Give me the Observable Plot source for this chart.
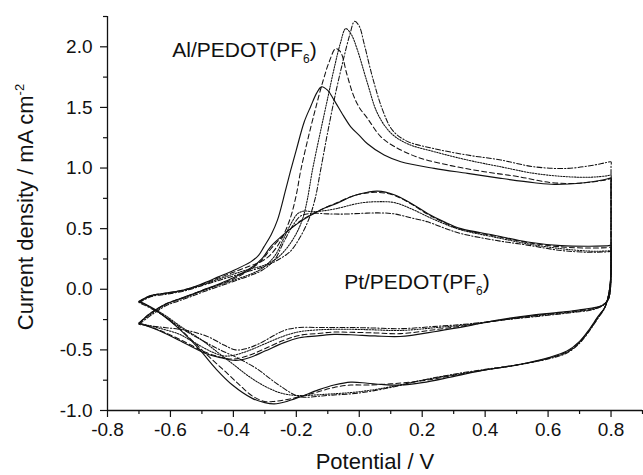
<!DOCTYPE html>
<html><head><meta charset="utf-8">
<script src="https://cdn.jsdelivr.net/npm/d3@7"></script>
<script src="https://cdn.jsdelivr.net/npm/@observablehq/plot@0.6"></script>
<style>body{margin:0;background:#fff;} #chart svg{display:block;}</style>
</head><body><div id="chart"></div>
<script>
// ---- Data: cyclic voltammograms, [potential V, current density mA cm^-2] ----
const alSolid = [[-0.70,-0.10],[-0.66,-0.05],[-0.61,-0.03],[-0.55,0.0],[-0.50,0.045],[-0.45,0.10],[-0.40,0.155],[-0.345,0.226],[-0.32,0.28],[-0.303,0.35],[-0.28,0.45],[-0.26,0.57],[-0.234,0.82],[-0.218,0.98],[-0.20,1.15],[-0.175,1.38],[-0.154,1.51],[-0.135,1.62],[-0.12,1.67],[-0.10,1.64],[-0.08,1.56],[-0.05,1.43],[-0.027,1.34],[0.0,1.27],[0.026,1.20],[0.079,1.107],[0.132,1.052],[0.238,0.997],[0.344,0.956],[0.45,0.915],[0.556,0.879],[0.62,0.865],[0.715,0.879],[0.78,0.905],[0.80,0.915],
  [0.80,0.88],[0.80,0.5],[0.799,0.1],[0.792,-0.05],[0.78,-0.15],[0.757,-0.23],[0.731,-0.33],[0.70,-0.43],[0.66,-0.51],[0.60,-0.565],[0.50,-0.625],[0.40,-0.665],[0.29,-0.725],[0.20,-0.77],[0.13,-0.79],[0.07,-0.785],[0.026,-0.775],[-0.027,-0.766],[-0.08,-0.79],[-0.13,-0.83],[-0.19,-0.89],[-0.23,-0.925],[-0.27,-0.945],[-0.30,-0.935],[-0.34,-0.90],[-0.403,-0.79],[-0.456,-0.655],[-0.51,-0.49],[-0.573,-0.325],[-0.637,-0.19],[-0.67,-0.135],[-0.70,-0.10]];
const alDashed = [[-0.70,-0.10],[-0.66,-0.05],[-0.61,-0.03],[-0.55,0.0],[-0.50,0.04],[-0.45,0.09],[-0.40,0.14],[-0.35,0.19],[-0.31,0.23],[-0.28,0.29],[-0.25,0.40],[-0.22,0.58],[-0.20,0.78],[-0.186,0.98],[-0.165,1.22],[-0.14,1.48],[-0.115,1.72],[-0.095,1.88],[-0.075,1.985],[-0.06,1.96],[-0.04,1.78],[-0.02,1.61],[0.0,1.50],[0.026,1.41],[0.068,1.26],[0.11,1.18],[0.185,1.09],[0.291,1.02],[0.397,0.97],[0.503,0.93],[0.609,0.88],[0.70,0.875],[0.78,0.9],[0.80,0.91],
  [0.80,0.875],[0.80,0.5],[0.799,0.1],[0.792,-0.05],[0.78,-0.15],[0.757,-0.235],[0.731,-0.335],[0.70,-0.435],[0.66,-0.515],[0.60,-0.57],[0.50,-0.625],[0.40,-0.665],[0.29,-0.715],[0.20,-0.755],[0.10,-0.78],[0.026,-0.79],[-0.027,-0.79],[-0.08,-0.81],[-0.15,-0.86],[-0.22,-0.905],[-0.27,-0.925],[-0.30,-0.925],[-0.34,-0.88],[-0.38,-0.79],[-0.425,-0.68],[-0.48,-0.55],[-0.54,-0.40],[-0.60,-0.26],[-0.65,-0.17],[-0.70,-0.10]];
const alDotted = [[-0.70,-0.105],[-0.66,-0.055],[-0.61,-0.035],[-0.55,-0.005],[-0.50,0.035],[-0.45,0.08],[-0.40,0.125],[-0.35,0.165],[-0.30,0.20],[-0.26,0.26],[-0.23,0.34],[-0.20,0.46],[-0.18,0.58],[-0.165,0.74],[-0.149,0.98],[-0.125,1.28],[-0.10,1.58],[-0.08,1.82],[-0.06,2.03],[-0.043,2.15],[-0.025,2.10],[-0.006,1.975],[0.026,1.70],[0.058,1.45],[0.10,1.29],[0.153,1.20],[0.238,1.135],[0.344,1.066],[0.45,1.01],[0.556,0.956],[0.662,0.928],[0.74,0.925],[0.785,0.935],[0.80,0.94],
  [0.80,0.905],[0.80,0.5],[0.799,0.1],[0.792,-0.05],[0.78,-0.15],[0.757,-0.24],[0.731,-0.34],[0.70,-0.44],[0.66,-0.52],[0.60,-0.57],[0.50,-0.625],[0.40,-0.665],[0.29,-0.71],[0.20,-0.75],[0.10,-0.805],[0.0,-0.845],[-0.1,-0.865],[-0.2,-0.876],[-0.25,-0.855],[-0.30,-0.80],[-0.35,-0.72],[-0.40,-0.62],[-0.45,-0.52],[-0.50,-0.42],[-0.56,-0.32],[-0.62,-0.21],[-0.66,-0.15],[-0.70,-0.105]];
const alDashDot = [[-0.70,-0.11],[-0.66,-0.06],[-0.61,-0.04],[-0.55,-0.01],[-0.50,0.03],[-0.45,0.07],[-0.40,0.11],[-0.35,0.15],[-0.30,0.19],[-0.26,0.24],[-0.22,0.31],[-0.19,0.42],[-0.16,0.58],[-0.14,0.75],[-0.123,0.98],[-0.10,1.30],[-0.075,1.62],[-0.05,1.90],[-0.03,2.10],[-0.015,2.21],[0.0,2.17],[0.015,2.03],[0.042,1.75],[0.074,1.48],[0.106,1.31],[0.153,1.22],[0.238,1.16],[0.344,1.107],[0.45,1.066],[0.556,1.01],[0.662,0.997],[0.747,1.025],[0.785,1.045],[0.80,1.05],
  [0.80,1.015],[0.80,0.5],[0.799,0.1],[0.792,-0.05],[0.78,-0.155],[0.757,-0.245],[0.731,-0.345],[0.70,-0.445],[0.66,-0.525],[0.60,-0.575],[0.50,-0.625],[0.40,-0.66],[0.29,-0.705],[0.20,-0.75],[0.10,-0.81],[0.0,-0.855],[-0.1,-0.875],[-0.19,-0.885],[-0.25,-0.80],[-0.29,-0.725],[-0.32,-0.665],[-0.38,-0.575],[-0.45,-0.49],[-0.50,-0.42],[-0.56,-0.33],[-0.62,-0.22],[-0.66,-0.16],[-0.70,-0.11]];
const ptSolid = [[-0.70,-0.28],[-0.67,-0.21],[-0.642,-0.16],[-0.61,-0.115],[-0.578,-0.085],[-0.54,-0.05],[-0.50,-0.01],[-0.45,0.04],[-0.40,0.095],[-0.345,0.175],[-0.31,0.25],[-0.282,0.35],[-0.25,0.43],[-0.218,0.50],[-0.186,0.56],[-0.154,0.61],[-0.11,0.67],[-0.07,0.71],[-0.02,0.77],[0.026,0.80],[0.058,0.81],[0.111,0.78],[0.164,0.71],[0.217,0.626],[0.27,0.556],[0.323,0.50],[0.429,0.446],[0.535,0.39],[0.641,0.36],[0.73,0.355],[0.785,0.358],[0.80,0.36],
  [0.80,0.33],[0.80,0.15],[0.797,-0.02],[0.79,-0.09],[0.77,-0.135],[0.74,-0.155],[0.70,-0.17],[0.651,-0.187],[0.545,-0.215],[0.45,-0.25],[0.35,-0.30],[0.25,-0.345],[0.13,-0.39],[0.05,-0.385],[-0.027,-0.375],[-0.08,-0.372],[-0.133,-0.385],[-0.19,-0.40],[-0.239,-0.44],[-0.30,-0.51],[-0.35,-0.565],[-0.393,-0.587],[-0.44,-0.565],[-0.488,-0.53],[-0.573,-0.42],[-0.637,-0.34],[-0.70,-0.28]];
const ptDashed = [[-0.70,-0.28],[-0.67,-0.21],[-0.642,-0.16],[-0.61,-0.115],[-0.578,-0.085],[-0.54,-0.05],[-0.50,-0.01],[-0.45,0.035],[-0.40,0.085],[-0.345,0.165],[-0.31,0.24],[-0.282,0.33],[-0.25,0.42],[-0.218,0.50],[-0.186,0.565],[-0.154,0.615],[-0.11,0.67],[-0.07,0.715],[-0.02,0.77],[0.026,0.795],[0.058,0.80],[0.111,0.775],[0.164,0.705],[0.217,0.62],[0.27,0.55],[0.323,0.495],[0.429,0.44],[0.535,0.385],[0.641,0.35],[0.73,0.34],[0.785,0.343],[0.80,0.345],
  [0.80,0.315],[0.80,0.15],[0.797,-0.02],[0.79,-0.09],[0.77,-0.135],[0.74,-0.16],[0.70,-0.175],[0.651,-0.19],[0.545,-0.22],[0.45,-0.255],[0.35,-0.295],[0.25,-0.33],[0.13,-0.366],[0.05,-0.36],[-0.027,-0.355],[-0.08,-0.353],[-0.133,-0.365],[-0.19,-0.38],[-0.239,-0.42],[-0.30,-0.49],[-0.35,-0.545],[-0.40,-0.575],[-0.44,-0.56],[-0.488,-0.52],[-0.573,-0.41],[-0.637,-0.335],[-0.70,-0.28]];
const ptDotted = [[-0.70,-0.28],[-0.67,-0.22],[-0.642,-0.17],[-0.61,-0.12],[-0.578,-0.09],[-0.54,-0.055],[-0.50,-0.015],[-0.45,0.03],[-0.40,0.075],[-0.35,0.12],[-0.31,0.17],[-0.27,0.27],[-0.24,0.42],[-0.215,0.55],[-0.195,0.625],[-0.175,0.645],[-0.15,0.64],[-0.12,0.645],[-0.07,0.667],[0.0,0.71],[0.05,0.722],[0.111,0.715],[0.164,0.665],[0.217,0.60],[0.27,0.54],[0.323,0.49],[0.43,0.43],[0.535,0.375],[0.641,0.335],[0.73,0.315],[0.785,0.315],[0.80,0.315],
  [0.80,0.285],[0.80,0.15],[0.797,-0.02],[0.79,-0.09],[0.77,-0.14],[0.74,-0.165],[0.70,-0.18],[0.651,-0.195],[0.545,-0.225],[0.45,-0.255],[0.35,-0.29],[0.25,-0.315],[0.13,-0.34],[0.05,-0.335],[-0.027,-0.33],[-0.08,-0.33],[-0.133,-0.335],[-0.19,-0.35],[-0.239,-0.385],[-0.30,-0.45],[-0.35,-0.505],[-0.40,-0.545],[-0.43,-0.55],[-0.47,-0.515],[-0.53,-0.43],[-0.573,-0.37],[-0.637,-0.32],[-0.70,-0.28]];
const ptDashDot = [[-0.70,-0.29],[-0.67,-0.23],[-0.642,-0.18],[-0.61,-0.13],[-0.578,-0.10],[-0.54,-0.065],[-0.50,-0.025],[-0.45,0.02],[-0.40,0.065],[-0.35,0.11],[-0.31,0.155],[-0.27,0.24],[-0.24,0.39],[-0.21,0.53],[-0.186,0.605],[-0.154,0.626],[-0.10,0.622],[-0.05,0.62],[0.005,0.626],[0.06,0.63],[0.111,0.622],[0.164,0.59],[0.217,0.556],[0.27,0.505],[0.323,0.46],[0.43,0.405],[0.535,0.364],[0.641,0.32],[0.73,0.305],[0.785,0.308],[0.80,0.31],
  [0.80,0.28],[0.80,0.15],[0.797,-0.02],[0.79,-0.09],[0.77,-0.14],[0.74,-0.17],[0.70,-0.185],[0.651,-0.2],[0.545,-0.23],[0.45,-0.255],[0.35,-0.285],[0.25,-0.305],[0.13,-0.325],[0.05,-0.32],[-0.027,-0.315],[-0.08,-0.315],[-0.133,-0.315],[-0.19,-0.315],[-0.239,-0.34],[-0.319,-0.45],[-0.36,-0.49],[-0.393,-0.50],[-0.43,-0.46],[-0.478,-0.394],[-0.53,-0.35],[-0.573,-0.33],[-0.637,-0.31],[-0.70,-0.29]];

const xMajorTicks = [-0.8,-0.6,-0.4,-0.2,0.0,0.2,0.4,0.6,0.8];
const xMinorTicks = [-0.7,-0.5,-0.3,-0.1,0.1,0.3,0.5,0.7,0.9];
const yMajorTicks = [-1.0,-0.5,0.0,0.5,1.0,1.5,2.0];
const yMinorTicks = [-0.75,-0.25,0.25,0.75,1.25,1.75,2.25];

const labelText = ["Al/PEDOT(PF_6)", "Pt/PEDOT(PF_6)"];
const labelV = [-0.594, -0.048];
const labelI = [1.917, 0.006];

// ---- Styles (kept out of data) ----
const FONT = "'Liberation Sans', Arial, Helvetica, sans-serif";
const curves = [
  [alSolid, null], [alDashed, "5,3"], [alDotted, "1.5,1.3"], [alDashDot, "5,2,1.3,2"],
  [ptSolid, null], [ptDashed, "5,3"], [ptDotted, "1.5,1.3"], [ptDashDot, "5,2,1.3,2"]
];
const rows = pts => pts.map(([V, I]) => ({V, I}));
const labels = labelText.map((t, i) => ({t, V: labelV[i], I: labelI[i]}));

const fmt = d => d.toFixed(1);
const chart = Plot.plot({
  width: 643, height: 475,
  marginLeft: 107, marginRight: 1, marginTop: 16, marginBottom: 65,
  x: {domain: [-0.8, 0.9]},
  y: {domain: [-1.0, 2.25]},
  style: {fontFamily: FONT, fontSize: "19px", color: "#111", background: "#fff"},
  marks: [
    Plot.axisX(xMajorTicks, {tickSize: 7, tickPadding: 5, tickFormat: fmt, label: null, fontSize: 19, strokeWidth: 1.2}),
    Plot.axisX(xMinorTicks, {tickSize: 4, tickFormat: () => "", label: null, strokeWidth: 1.2}),
    Plot.axisY(yMajorTicks, {tickSize: 7, tickPadding: 8, tickFormat: fmt, label: null, fontSize: 19, strokeWidth: 1.2}),
    Plot.axisY(yMinorTicks, {tickSize: 4, tickFormat: () => "", label: null, strokeWidth: 1.2}),
    Plot.ruleY([-1.0], {stroke: "#111", strokeWidth: 1.3}),
    Plot.ruleX([-0.8], {stroke: "#111", strokeWidth: 1.3}),
    ...curves.map(([pts, dash]) => Plot.line(rows(pts), {
      x: "V", y: "I", curve: "catmull-rom", stroke: "#111",
      strokeWidth: dash ? 1.05 : 1.15, strokeDasharray: dash || undefined
    })),
    Plot.text(labels, {x: "V", y: "I", text: "t", textAnchor: "start", lineAnchor: "bottom", fontSize: 21, fill: "#111"})
  ]
});

// subscripts in annotation labels
const svg = d3.select(chart.tagName.toLowerCase() === "svg" ? chart : chart.querySelector("svg"));
svg.selectAll("text").each(function () {
  const t = this.textContent;
  if (t.includes("_6")) {
    const [main, rest] = t.split("_6");
    const sel = d3.select(this);
    sel.text(null);
    sel.append("tspan").text(main);
    sel.append("tspan").attr("font-size", 12).attr("dy", 6).text("6");
    sel.append("tspan").attr("dy", -6).text(rest);
  }
});
// axis titles
svg.append("text")
  .attr("x", 375).attr("y", 469).attr("text-anchor", "middle")
  .attr("font-family", FONT).attr("font-size", 22).attr("fill", "#111")
  .text("Potential / V");
const yl = svg.append("text")
  .attr("transform", "translate(33,207) rotate(-90)").attr("text-anchor", "middle")
  .attr("font-family", FONT).attr("font-size", 22).attr("fill", "#111");
yl.append("tspan").text("Current density / mA cm");
yl.append("tspan").attr("font-size", 13).attr("dy", -9).text("-2");

document.getElementById("chart").append(chart);
</script>
</body></html>
